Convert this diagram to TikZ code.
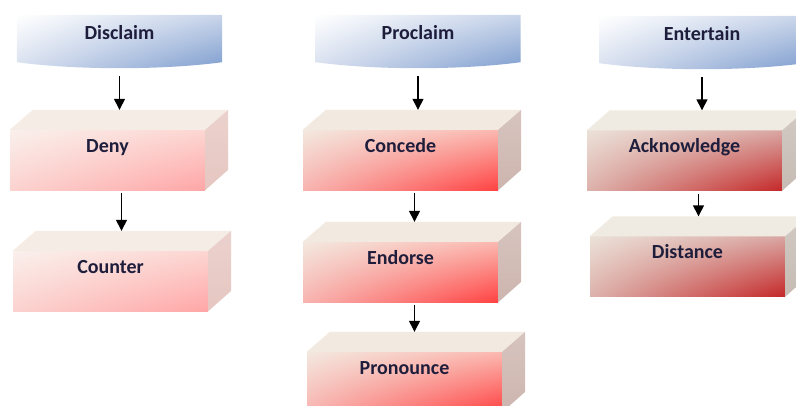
\documentclass[tikz,border=0pt]{standalone}
\usepackage{fontspec}
\setmainfont{Carlito}
\usetikzlibrary{arrows.meta,shadings,backgrounds,positioning}

\definecolor{txt}{HTML}{1E1E3C}
\definecolor{bnB}{HTML}{C9D5EA}
\definecolor{bnC}{HTML}{D6DEEE}
\definecolor{bnD}{HTML}{7C9CCE}
% light pink boxes
\definecolor{pkA}{HTML}{FAF0EC}
\definecolor{pkB}{HTML}{FCD6D2}
\definecolor{pkC}{HTML}{FBD2CF}
\definecolor{pkD}{HTML}{FFA6A6}
% red boxes
\definecolor{rdA}{HTML}{F3E8DF}
\definecolor{rdB}{HTML}{FBB8B0}
\definecolor{rdC}{HTML}{F8B4B0}
\definecolor{rdD}{HTML}{FF4242}
% dark red boxes
\definecolor{drA}{HTML}{EBE1D8}
\definecolor{drB}{HTML}{D9A6A2}
\definecolor{drC}{HTML}{DDB2AC}
\definecolor{drD}{HTML}{C42828}
% top and side faces
\definecolor{tpA}{HTML}{F6ECE6}
\definecolor{tpB}{HTML}{F2EAE0}
\definecolor{tpC}{HTML}{EFEBE2}
\definecolor{sdA}{HTML}{E6C6C1}
\definecolor{sdB}{HTML}{CDB5AE}
\definecolor{sdC}{HTML}{C6BCB4}

\begin{document}
\begin{tikzpicture}[x=1pt,y=-1pt]
	\tikzstyle{Label}	= [font=\bfseries\fontsize{20}{24}\selectfont, text=txt]
	\tikzstyle{Banner}	= [Label, rectangle, minimum width=205pt, minimum height=53pt, inner ysep=0pt, text height=24pt, text depth=29pt]
	\tikzstyle{Front}	= [Label, rectangle, minimum width=195pt, minimum height=60pt, inner ysep=0pt, text height=22pt, text depth=38pt]
	\tikzstyle{Pale}	= [Front, upper left=pkA, upper right=pkB, lower left=pkC, lower right=pkD]
	\tikzstyle{Red}		= [Front, upper left=rdA, upper right=rdB, lower left=rdC, lower right=rdD]
	\tikzstyle{Dark}	= [Front, upper left=drA, upper right=drB, lower left=drC, lower right=drD]
	\tikzstyle{Arr}		= [-{Triangle[width=11pt,length=11pt]}, line width=1.4pt, black, shorten <=3pt]

	\useasboundingbox (0,0) rectangle (796,405);

	\node (disclaim) at (119.5, 41.5) [Banner] {Disclaim};
	\node (proclaim) at (418, 41.5) [Banner] {Proclaim};
	\node (entertain) at (702, 42.5) [Banner] {Entertain};

	\node (deny) at (107.5, 160) [Pale] {Deny};
	\node (counter) at (110.5, 281) [Pale] {Counter};
	\node (concede) at (400.5, 160) [Red] {Concede};
	\node (endorse) at (400.5, 272) [Red] {Endorse};
	\node (pronounce) at (404.5, 382) [Red] {Pronounce};
	\node (acknowledge) at (684.5, 160.5) [Dark] {Acknowledge};
	\node (distance) at (687.5, 266.5) [Dark] {Distance};

	\begin{scope}[on background layer]
		\foreach \b in {disclaim, proclaim, entertain}
			\shade[upper left=white, upper right=bnB, lower left=bnC, lower right=bnD]
				(\b.north west) -- (\b.north east) -- ([yshift=6pt]\b.south east)
				.. controls ([shift={(-60,2)}]\b.south east) and ([shift={(60,2)}]\b.south west) .. ([yshift=6pt]\b.south west) -- cycle;
	\end{scope}

	% top and side faces of the boxes
	\foreach \b/\tp/\sd in {deny/tpA/sdA, counter/tpA/sdA, concede/tpB/sdB, endorse/tpB/sdB, pronounce/tpB/sdB, acknowledge/tpC/sdC, distance/tpC/sdC}{
		\fill[\tp] (\b.north west) -- ++(23,-20) -- ([shift={(23,-20)}]\b.north east) -- (\b.north east) -- cycle;
		\shade[top color=\sd!80!white, bottom color=\sd] (\b.north east) -- ++(23,-20) -- ++(0,60) -- (\b.south east) -- cycle;
		\coordinate (\b-top) at ([yshift=20pt]\b.north);
		\coordinate (\b-out) at ([xshift=14pt]\b.south);
	}

	\draw [Arr, shorten <=8pt] (disclaim.south) -- (disclaim.south |- deny-top);
	\draw [Arr] (deny-out) -- (deny-out |- counter-top);
	\draw [Arr, shorten <=8pt] (proclaim.south) -- (proclaim.south |- concede-top);
	\draw [Arr] (concede-out) -- (concede-out |- endorse-top);
	\draw [Arr] (endorse-out) -- (endorse-out |- pronounce-top);
	\draw [Arr, shorten <=8pt] (entertain.south) -- (entertain.south |- acknowledge-top);
	\draw [Arr] (acknowledge-out) -- (acknowledge-out |- distance-top);
\end{tikzpicture}
\end{document}
